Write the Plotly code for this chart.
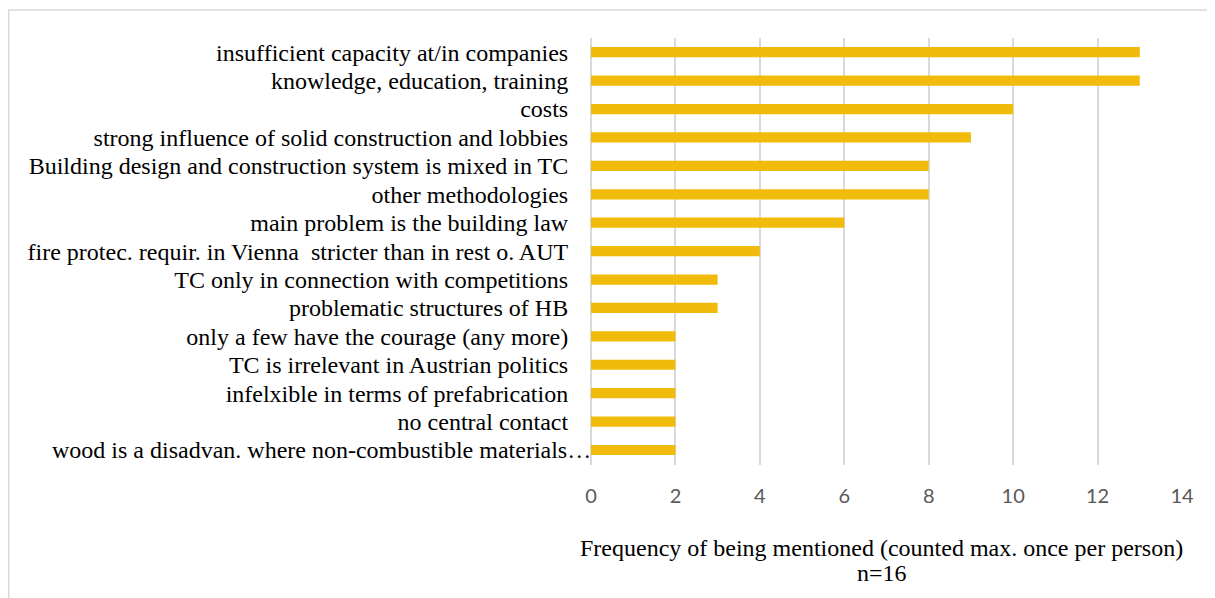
import plotly.graph_objects as go

categories = [
    "insufficient capacity at/in companies",
    "knowledge, education, training",
    "costs",
    "strong influence of solid construction and lobbies",
    "Building design and construction system is mixed in TC",
    "other methodologies",
    "main problem is the building law",
    "fire protec. requir. in Vienna  stricter than in rest o. AUT",
    "TC only in connection with competitions",
    "problematic structures of HB",
    "only a few have the courage (any more)",
    "TC is irrelevant in Austrian politics",
    "infelxible in terms of prefabrication",
    "no central contact",
    "wood is a disadvan. where non-combustible materials…",
]
values = [13, 13, 10, 9, 8, 8, 6, 4, 3, 3, 2, 2, 2, 2, 2]
x_ticks = [0, 2, 4, 6, 8, 10, 12, 14]

# page body has an 8px margin; compensate so plot lands where the reference has it
W, H = 1207, 590
L, R, T, B = 583, 33, 30, 133
pw, ph = W - L - R, H - T - B

SERIF = "Liberation Serif, Times New Roman, serif"

# the truncated last label overflows toward the axis in the reference; draw it as an annotation
ticktext = list(categories[:-1]) + [""]

fig = go.Figure(go.Bar(
    x=values, y=categories, orientation="h",
    marker=dict(color="#F0BB0A", line=dict(width=0)),
    hoverinfo="x+y",
))

fig.update_layout(
    width=W, height=H,
    margin=dict(l=L, r=R, t=T, b=B, autoexpand=False),
    paper_bgcolor="white", plot_bgcolor="white",
    bargap=0.64,
    showlegend=False,
    xaxis=dict(
        range=[0, 14], tickvals=x_ticks, showgrid=True,
        gridcolor="#D9D9D9", gridwidth=1.5, zeroline=True,
        zerolinecolor="#D9D9D9", zerolinewidth=1.5,
        ticks="outside", ticklen=13, tickcolor="rgba(0,0,0,0)",
        tickfont=dict(family="Lato, Open Sans, sans-serif", size=20, color="#595959"),
        fixedrange=True,
    ),
    yaxis=dict(
        categoryorder="array", categoryarray=categories[::-1],
        tickmode="array", tickvals=categories, ticktext=ticktext,
        showgrid=False, ticks="outside", ticklen=17, tickcolor="rgba(0,0,0,0)",
        tickfont=dict(family=SERIF, size=24, color="#000000"),
        fixedrange=True,
    ),
    annotations=[
        dict(xref="paper", yref="y", x=2 / pw, y=categories[-1],
             xanchor="right", yanchor="middle", showarrow=False,
             text=categories[-1],
             font=dict(family=SERIF, size=24, color="#000000")),
        dict(xref="paper", yref="paper", x=0.5 - 5 / pw, y=-83 / ph,
             xanchor="center", yanchor="middle", showarrow=False,
             text="Frequency of being mentioned (counted max. once per person)",
             font=dict(family=SERIF, size=24, color="#000000")),
        dict(xref="paper", yref="paper", x=0.5 - 5 / pw, y=-108 / ph,
             xanchor="center", yanchor="middle", showarrow=False,
             text="n=16",
             font=dict(family=SERIF, size=24, color="#000000")),
    ],
    shapes=[dict(
        type="rect", xref="paper", yref="paper",
        x0=(0.75 - L) / pw, x1=(W + 20 - L) / pw,
        y0=-(H + 20 - (H - B)) / ph, y1=(H - B - 2) / ph,
        line=dict(color="#D9D9D9", width=1.5), fillcolor="rgba(0,0,0,0)", layer="below",
    )],
)

fig.write_html("out.html")
